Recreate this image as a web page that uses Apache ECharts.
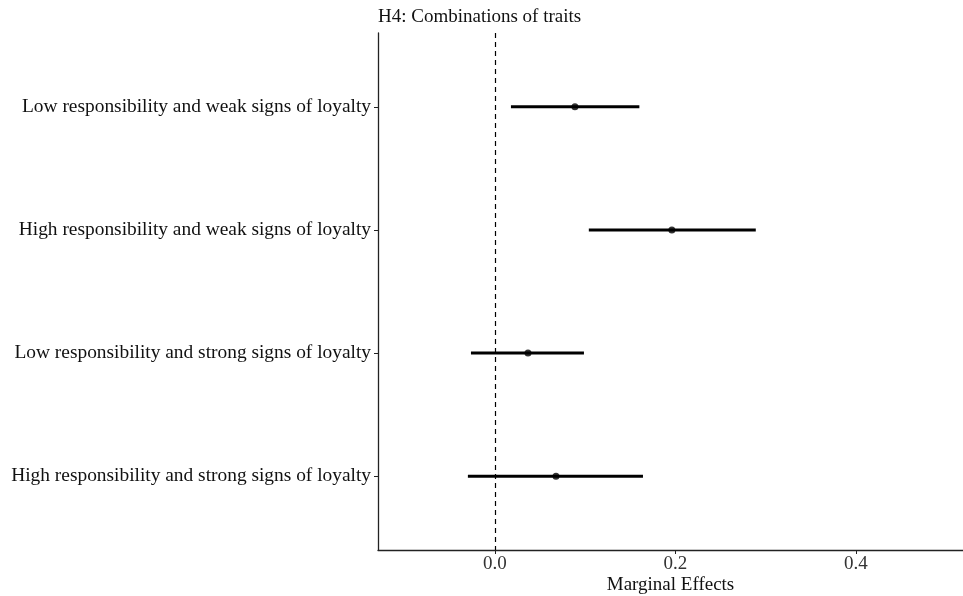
<!DOCTYPE html>
<html>
<head>
<meta charset="utf-8">
<script src="https://cdn.jsdelivr.net/npm/echarts@6/dist/echarts.min.js"></script>
<style>
  html, body { margin: 0; padding: 0; background: #fff; }
  #chart { width: 963px; height: 596px; }
</style>
</head>
<body>
<div id="chart"></div>
<script>
// Marginal effects with confidence intervals, one row per trait combination
const categories = [
  'Low responsibility and weak signs of loyalty',
  'High responsibility and weak signs of loyalty',
  'Low responsibility and strong signs of loyalty',
  'High responsibility and strong signs of loyalty'
];
const estimates = [0.0886, 0.196, 0.0366, 0.0676];
const lowerBounds = [0.0177, 0.104, -0.0266, -0.030];
const upperBounds = [0.160, 0.289, 0.0986, 0.164];
const xTickValues = [0.0, 0.2, 0.4];

const FONT = '"Liberation Serif", "DejaVu Serif", serif';

const rowPositions = categories.map((_, i) => i + 1);
const intervalData = categories.map((_, i) => [lowerBounds[i], upperBounds[i], i + 1]);
const pointData = categories.map((_, i) => [estimates[i], i + 1]);

const chart = echarts.init(document.getElementById('chart'), null, { renderer: 'canvas' });

chart.setOption({
  backgroundColor: '#ffffff',
  animation: false,
  title: {
    text: 'H4: Combinations of traits',
    left: 373,
    top: 3,
    textStyle: { fontFamily: FONT, fontSize: 19, fontWeight: 'normal', color: '#111' }
  },
  grid: { left: 378, width: 585, top: 33, height: 517, containLabel: false, outerBoundsMode: 'none' },
  xAxis: {
    type: 'value',
    min: -0.1296,
    max: 0.5186,
    name: 'Marginal Effects',
    nameLocation: 'middle',
    nameGap: 26,
    nameMoveOverlap: false,
    nameTextStyle: { fontFamily: FONT, fontSize: 19, color: '#111' },
    splitLine: { show: false },
    axisLine: { show: true, onZero: false, lineStyle: { color: '#222', width: 1.3 } },
    axisTick: { show: true, customValues: xTickValues, length: 4, lineStyle: { color: '#222', width: 1 } },
    axisLabel: {
      customValues: xTickValues,
      formatter: v => v.toFixed(1),
      fontFamily: FONT, fontSize: 19, color: '#333', margin: 5
    }
  },
  yAxis: {
    type: 'value',
    inverse: true,
    min: 0.4,
    max: 4.6,
    splitLine: { show: false },
    axisLine: { show: true, onZero: false, lineStyle: { color: '#222', width: 1.3 } },
    axisTick: { show: true, customValues: rowPositions, length: 4, lineStyle: { color: '#222', width: 1 } },
    axisLabel: {
      customValues: rowPositions,
      formatter: v => categories[Math.round(v) - 1] || '',
      fontFamily: FONT, fontSize: 19.4, color: '#111', margin: 7
    }
  },
  series: [
    {
      type: 'custom',
      data: intervalData,
      encode: { x: [0, 1], y: 2 },
      renderItem: function (params, api) {
        const a = api.coord([api.value(0), api.value(2)]);
        const b = api.coord([api.value(1), api.value(2)]);
        return {
          type: 'line',
          shape: { x1: a[0], y1: a[1], x2: b[0], y2: b[1] },
          style: { stroke: '#000', lineWidth: 3 }
        };
      },
      z: 3
    },
    {
      type: 'scatter',
      data: pointData,
      symbol: 'circle',
      symbolSize: 7,
      itemStyle: { color: '#000' },
      z: 4,
      markLine: {
        silent: true,
        symbol: 'none',
        label: { show: false },
        lineStyle: { color: '#000', type: [5, 4], width: 1.2 },
        data: [{ xAxis: 0 }]
      }
    }
  ]
});
</script>
</body>
</html>
